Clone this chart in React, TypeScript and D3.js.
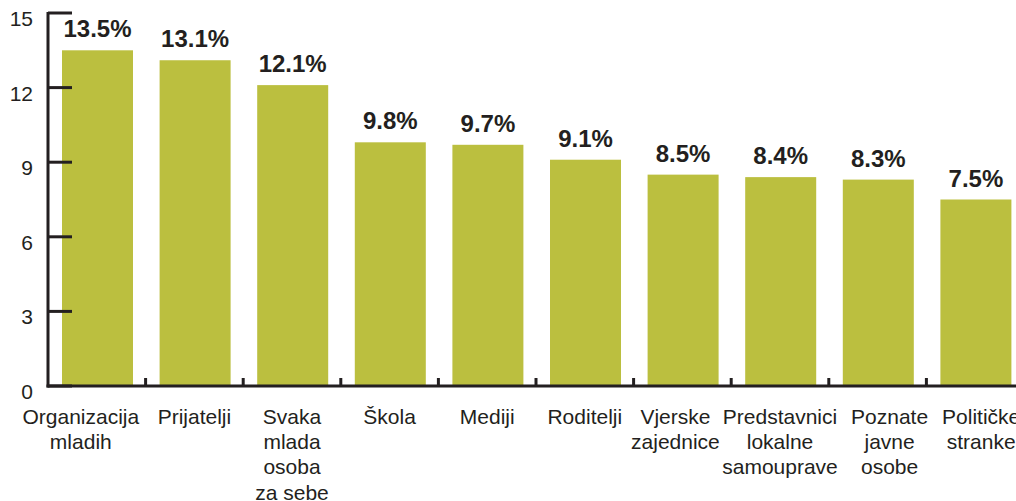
import React, { useEffect, useRef } from "react";
import * as d3 from "d3";

// categories and values
const categories = [
  "Organizacija mladih",
  "Prijatelji",
  "Svaka mlada osoba za sebe",
  "Škola",
  "Mediji",
  "Roditelji",
  "Vjerske zajednice",
  "Predstavnici lokalne samouprave",
  "Poznate javne osobe",
  "Političke stranke",
];
const values = [13.5, 13.1, 12.1, 9.8, 9.7, 9.1, 8.5, 8.4, 8.3, 7.5];
// label lines as they are broken in the picture
const labelLines = [
  ["Organizacija", "mladih"],
  ["Prijatelji"],
  ["Svaka", "mlada", "osoba", "za sebe"],
  ["Škola"],
  ["Mediji"],
  ["Roditelji"],
  ["Vjerske", "zajednice"],
  ["Predstavnici", "lokalne", "samouprave"],
  ["Poznate", "javne", "osobe"],
  ["Političke", "stranke"],
];
const yTicks = [0, 3, 6, 9, 12, 15];

const W = 1016;
const H = 501;
const BAR = "#bbbf3f";
const INK = "#231f20";

export default function App() {
  const ref = useRef<SVGSVGElement>(null);

  useEffect(() => {
    const svg = d3.select(ref.current);
    svg.selectAll("*").remove();

    const left = 48, right = 1024, top = 13, base = 386;

    const x = d3.scaleBand<string>().domain(categories).range([left, right]).paddingInner(0).paddingOuter(0);
    const y = d3.scaleLinear().domain([0, 15]).range([base, top]);
    const step = x.step();
    const barOff = 14, barW = 71;
    // small horizontal nudges of some category labels, as in the picture
    const nudge = (i: number) => (i === 0 ? -16 : i === 6 ? -7 : i === 8 ? 12 : i === 9 ? 6 : 0);

    const font = "'Liberation Sans', Arial, sans-serif";

    // bars
    svg.append("g")
      .selectAll("rect")
      .data(values)
      .join("rect")
      .attr("x", (d, i) => x(categories[i])! + barOff)
      .attr("y", d => y(d))
      .attr("width", barW)
      .attr("height", d => base - y(d))
      .attr("fill", BAR);

    // value labels
    svg.append("g")
      .selectAll("text")
      .data(values)
      .join("text")
      .attr("x", (d, i) => x(categories[i])! + barOff + barW / 2)
      .attr("y", d => y(d) - 13)
      .attr("text-anchor", "middle")
      .style("font-family", font)
      .style("font-size", "24px")
      .style("font-weight", "bold")
      .attr("fill", INK)
      .text(d => d.toFixed(1) + "%");

    // y axis: line + ticks pointing inward
    const ya = svg.append("g");
    ya.append("line")
      .attr("x1", left).attr("x2", left)
      .attr("y1", top - 1).attr("y2", base + 1.5)
      .attr("stroke", INK).attr("stroke-width", 3);
    ya.selectAll("line.tk")
      .data(yTicks)
      .join("line")
      .attr("class", "tk")
      .attr("x1", left).attr("x2", left + 24)
      .attr("y1", d => y(d)).attr("y2", d => y(d))
      .attr("stroke", INK).attr("stroke-width", 3);
    ya.selectAll("text")
      .data(yTicks)
      .join("text")
      .attr("x", 33)
      .attr("y", d => y(d) + 13)
      .attr("text-anchor", "end")
      .style("font-family", font)
      .style("font-size", "21px")
      .attr("fill", INK)
      .text(d => d);

    // x axis
    const xa = svg.append("g");
    xa.append("line")
      .attr("x1", left - 1.5).attr("x2", W)
      .attr("y1", base).attr("y2", base)
      .attr("stroke", INK).attr("stroke-width", 3);
    xa.selectAll("line.tk")
      .data(categories.slice(1))
      .join("line")
      .attr("class", "tk")
      .attr("x1", d => x(d)!).attr("x2", d => x(d)!)
      .attr("y1", base).attr("y2", base - 8)
      .attr("stroke", INK).attr("stroke-width", 3);

    // category labels
    const lab = xa.selectAll("text")
      .data(categories)
      .join("text")
      .attr("text-anchor", "middle")
      .style("font-family", font)
      .style("font-size", "21px")
      .attr("fill", INK)
      .attr("transform", (d, i) => `translate(${x(d)! + step / 2 + nudge(i)},0)`);
    lab.selectAll("tspan")
      .data((d, i) => labelLines[i])
      .join("tspan")
      .attr("x", 0)
      .attr("y", (d, j) => 424 + j * 25.2)
      .text(d => d);
  }, []);

  return (
    <svg
      ref={ref}
      width={W}
      height={H}
      style={{ position: "absolute", left: 0, top: 0, background: "#fff" }}
    />
  );
}
